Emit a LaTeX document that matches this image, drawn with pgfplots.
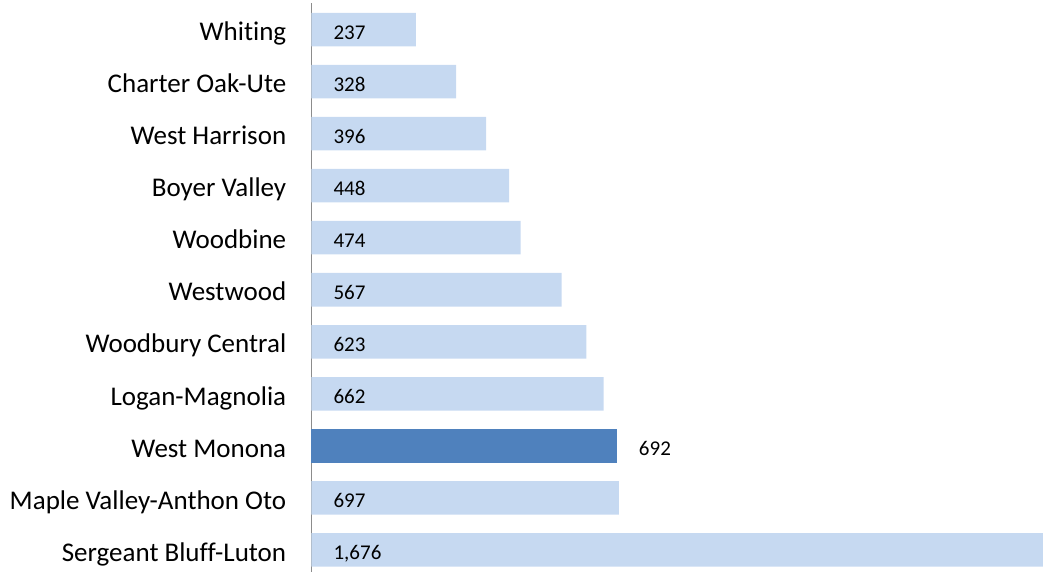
\documentclass[border=0pt]{standalone}
\usepackage{fontspec}
\setmainfont{Carlito}[Ligatures={CommonOff}]
\usepackage{pgfplots}
\pgfplotsset{compat=1.18}
\definecolor{lightbar}{HTML}{C6D9F1}
\definecolor{darkbar}{HTML}{4F81BD}
\definecolor{axisgray}{HTML}{8C8C8C}
\begin{document}
\begin{tikzpicture}
\begin{axis}[
  at={(0,0)}, anchor=south west,
  scale only axis,
  width=739.6pt, height=572.5pt,
  xmin=0, xmax=1676,
  ymin=-0.5, ymax=10.5,
  axis x line=none,
  axis y line*=left,
  y axis line style={axisgray, line width=1.6pt, -},
  ytick={0,...,10},
  yticklabels={Sergeant Bluff-Luton, Maple Valley-Anthon Oto, West Monona, Logan-Magnolia, Woodbury Central, Westwood, Woodbine, Boyer Valley, West Harrison, Charter Oak-Ute, Whiting},
  major tick length=0pt,
  yticklabel style={font=\fontsize{27}{30}\selectfont, anchor=base east, inner sep=0pt, xshift=-25pt, yshift=-11.2pt},
  clip=false,
]
\addplot[xbar, fill=lightbar, draw=none, bar width=33.5pt, bar shift=0pt]
  coordinates {(1676,0) (697,1) (662,3) (623,4) (567,5) (474,6) (448,7) (396,8) (328,9) (237,10)};
\addplot[xbar, fill=darkbar, draw=none, bar width=33.5pt, bar shift=0pt,
  nodes near coords, point meta=explicit symbolic,
  every node near coord/.append style={font=\fontsize{21}{24}\selectfont, anchor=base west, inner sep=0pt, xshift=22pt, yshift=-9.8pt, text=black}]
  coordinates {(692,2) [692]};
\addplot[draw=none, mark=none, nodes near coords, point meta=explicit symbolic,
  every node near coord/.append style={font=\fontsize{21}{24}\selectfont, anchor=base west, inner sep=0pt, xshift=22pt, yshift=-9.8pt, text=black}]
  coordinates {(0,0) [{1,676}] (0,1) [697] (0,3) [662] (0,4) [623] (0,5) [567] (0,6) [474] (0,7) [448] (0,8) [396] (0,9) [328] (0,10) [237]};
\end{axis}
\pgfresetboundingbox
\path (-311.4pt,5pt) rectangle (731.6pt,576pt);
\end{tikzpicture}
\end{document}
